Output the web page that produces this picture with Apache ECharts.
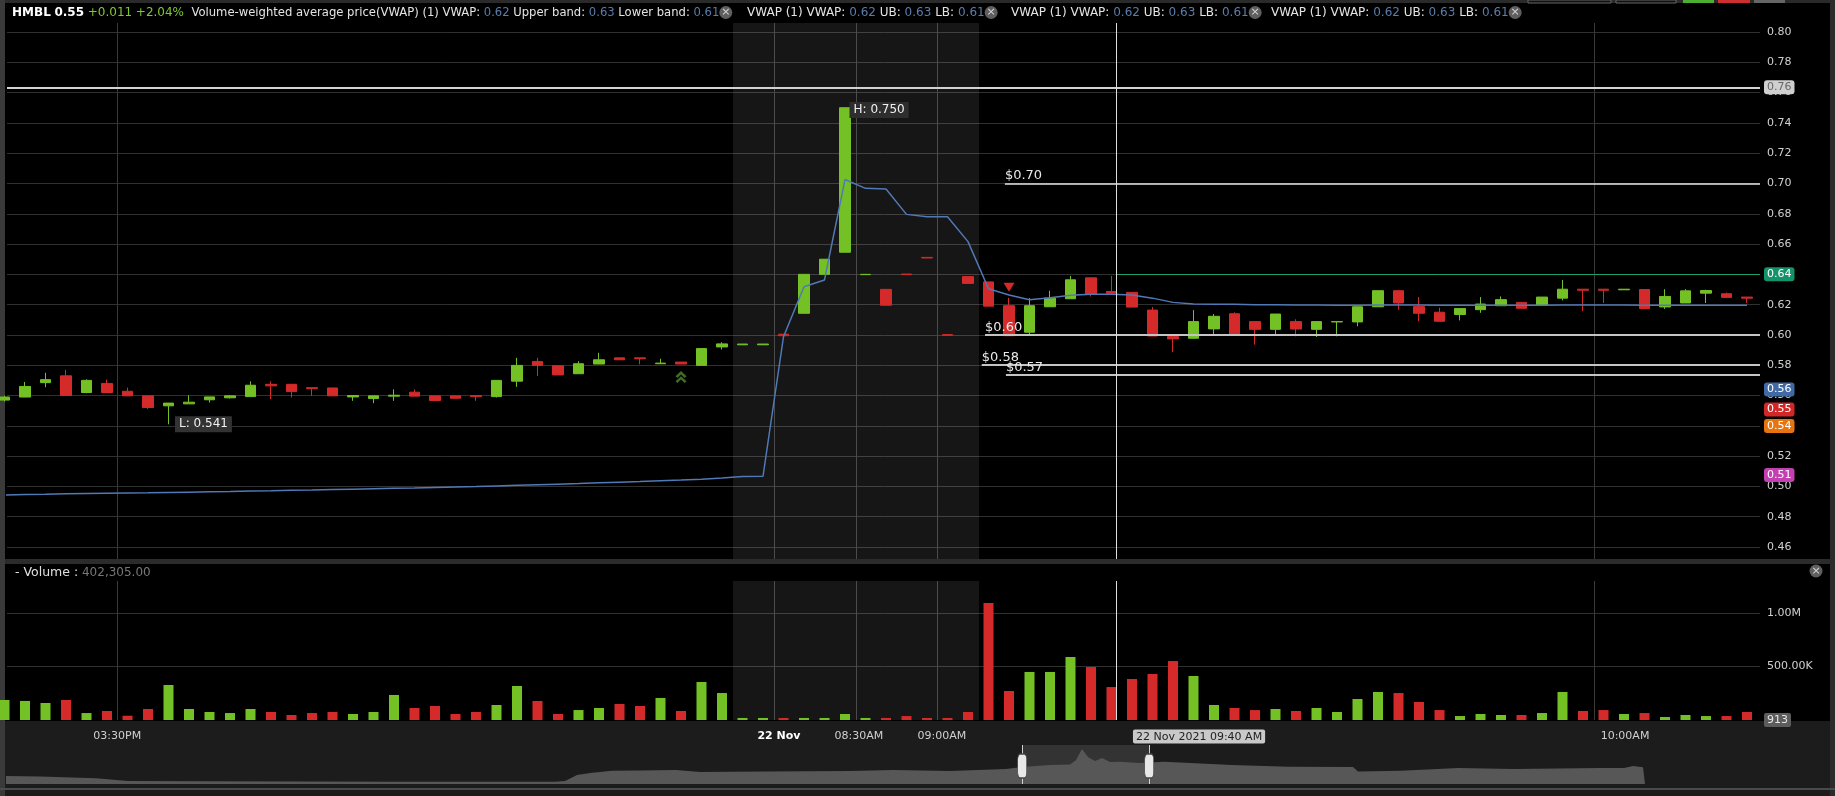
<!DOCTYPE html>
<html><head><meta charset="utf-8">
<script src="https://cdn.jsdelivr.net/npm/echarts@6/dist/echarts.min.js"></script>
<style>html,body{margin:0;padding:0;background:#000;overflow:hidden}#c{width:1835px;height:796px}</style>
</head><body><div id="c"></div>
<script>
// ---------------- data ----------------
const opens = [0.557,0.559,0.5685,0.573,0.562,0.568,0.5628,0.5598,0.5532,0.5545,
 0.5572,0.5585,0.5593,0.5674,0.5674,0.5652,0.565,0.5591,0.558,0.5596,
 0.5622,0.5598,0.5598,0.56,0.5593,0.5695,0.5825,0.5797,0.5744,0.5808,
 0.5849,0.5849,0.581,0.5821,0.5799,0.5921,0.5935,0.5935,0.6005,0.6143,
 0.64,0.6546,0.6398,0.6301,0.6402,0.6512,0.6002,0.6385,0.635,0.6193,
 0.6018,0.6186,0.6239,0.6377,0.6287,0.6281,0.6164,0.5989,0.5978,0.604,
 0.614,0.6088,0.6037,0.6088,0.6037,0.6086,0.6086,0.6186,0.6292,0.6187,
 0.615,0.6135,0.6167,0.6193,0.6215,0.6198,0.6243,0.6302,0.6302,0.6298,
 0.63,0.6185,0.6211,0.6276,0.6272,0.625];
const closes = [0.559,0.566,0.5705,0.560,0.570,0.562,0.5598,0.5521,0.555,0.5556,
 0.5591,0.5598,0.5668,0.5664,0.5626,0.5646,0.5598,0.56,0.5598,0.5602,
 0.5596,0.5567,0.5582,0.5593,0.570,0.5799,0.5799,0.5736,0.581,0.5836,
 0.5836,0.5843,0.5814,0.5808,0.591,0.5941,0.594,0.594,0.5995,0.64,
 0.65,0.75,0.64,0.6196,0.6398,0.6508,0.5998,0.634,0.619,0.5995,
 0.6193,0.6243,0.6364,0.627,0.6276,0.6184,0.5993,0.5974,0.6088,0.6123,
 0.6004,0.6037,0.6138,0.6039,0.6088,0.6088,0.6186,0.6292,0.6211,0.6143,
 0.609,0.6174,0.6204,0.6233,0.6176,0.625,0.6302,0.6295,0.6295,0.6302,
 0.6174,0.6254,0.6291,0.6293,0.6248,0.6243];
const lows = [0.556,0.559,0.5655,0.560,0.5615,0.562,0.5598,0.551,0.541,0.5545,
 0.5554,0.558,0.5593,0.5576,0.5587,0.5598,0.5598,0.5565,0.555,0.5565,
 0.5596,0.5567,0.5582,0.5565,0.5587,0.5657,0.5729,0.5736,0.5744,0.5808,
 0.5836,0.5806,0.581,0.5808,0.5799,0.5904,0.5935,0.5935,0.5995,0.6143,
 0.64,0.6546,0.6398,0.6196,0.6398,0.6508,0.5998,0.634,0.619,0.5995,
 0.60,0.6186,0.6239,0.6254,0.6276,0.6184,0.5993,0.5886,0.5978,0.6004,
 0.6004,0.5936,0.6002,0.5991,0.5987,0.5991,0.6057,0.6186,0.6167,0.609,
 0.609,0.6096,0.6146,0.6193,0.6176,0.6198,0.6228,0.6157,0.6211,0.6298,
 0.6174,0.6172,0.6211,0.6211,0.6248,0.6211];
const highs = [0.560,0.569,0.575,0.577,0.5707,0.5705,0.5652,0.5598,0.555,0.5602,
 0.5591,0.5602,0.5694,0.5694,0.5674,0.5652,0.565,0.56,0.5598,0.5641,
 0.5641,0.5598,0.5598,0.56,0.570,0.5849,0.5849,0.5797,0.5827,0.5882,
 0.5849,0.5849,0.5843,0.5821,0.591,0.5952,0.594,0.594,0.6005,0.64,
 0.65,0.75,0.64,0.6301,0.6402,0.6512,0.6002,0.6385,0.635,0.6245,
 0.6243,0.6292,0.639,0.6377,0.639,0.6281,0.6184,0.5989,0.6164,0.6138,
 0.6149,0.6088,0.6138,0.6103,0.6088,0.6088,0.6186,0.6292,0.6292,0.625,
 0.618,0.6174,0.625,0.6254,0.6215,0.625,0.6363,0.6302,0.6302,0.6302,
 0.63,0.6302,0.6302,0.6298,0.628,0.625];
const volumes = [187000,178000,159000,187000,65000,84000,40000,103000,327000,103000,
 75000,65000,103000,75000,47000,65000,75000,56000,75000,234000,
 112000,131000,56000,75000,140000,318000,178000,56000,93000,112000,
 150000,131000,206000,84000,355000,252000,19000,19000,19000,19000,
 19000,56000,19000,19000,37000,19000,19000,75000,1093000,271000,
 449000,449000,589000,495000,308000,383000,430000,551000,411000,140000,
 112000,93000,103000,84000,112000,75000,196000,262000,252000,168000,
 93000,37000,56000,47000,47000,65000,262000,84000,93000,56000,
 65000,28000,47000,37000,37000,75000];
const vwap = [0.4943,0.4946,0.4948,0.4951,0.4953,0.4955,0.4957,0.4958,0.4960,0.4962,
 0.4964,0.4966,0.4969,0.4971,0.4974,0.4976,0.4979,0.4982,0.4985,0.4988,
 0.4990,0.4993,0.4996,0.4999,0.5003,0.5007,0.5011,0.5015,0.5019,0.5024,
 0.5028,0.5032,0.5037,0.5042,0.5048,0.5055,0.5065,0.5067,0.5988,0.6318,
 0.6363,0.7026,0.6968,0.6963,0.6796,0.6780,0.6780,0.6616,0.6305,0.6264,
 0.6232,0.6245,0.6262,0.6268,0.6268,0.6264,0.6243,0.6215,0.6205,0.6203,
 0.6202,0.6200,0.6199,0.6198,0.6197,0.6196,0.6196,0.6197,0.6198,0.6197,
 0.6196,0.6196,0.6196,0.6196,0.6196,0.6196,0.6197,0.6197,0.6197,0.6197,
 0.6196,0.6196,0.6196,0.6196,0.6196,0.6196];
const priceTicks = [0.46,0.48,0.50,0.52,0.54,0.56,0.58,0.60,0.62,0.64,0.66,0.68,0.70,0.72,0.74,0.76,0.78,0.80];
const volumeTicks = [500000, 1000000];
const volumeTickLabels = ['500.00K', '1.00M'];
const timeGridPos = [5.5, 37.55, 41.55, 45.5, 77.55];
const timeLabelPos = [5.5, 37.78, 41.68, 45.73, 79.05];
const timeTickLabels = ['03:30PM', '22 Nov', '08:30AM', '09:00AM', '10:00AM'];
// price level lines: start bar, price, label
const levelStarts = [48.8, 47.83, 47.67, 48.85];
const levelPrices = [0.70, 0.60, 0.58, 0.5735];
const levelLabels = ['$0.70', '$0.60', '$0.58', '$0.57'];
const crosshairLevel = 0.7635;
// right-edge value badges
const badgeValues = [0.7635, 0.64, 0.5639, 0.5507, 0.5399, 0.5075];
const badgeTexts = ['0.76', '0.64', '0.56', '0.55', '0.54', '0.51'];
const badgeColors = ['#cfcfcf', '#14936b', '#3f6aa6', '#d12727', '#e8740f', '#c43fb2'];
const badgeTextColors = ['#666', '#fff', '#fff', '#fff', '#fff', '#fff'];
const crosshairBar = 54.25;
const sessionStart = 35.54, sessionEnd = 47.54;
// navigator overview (position, height)
const navX = [0,34,90,122,194,294,394,549,559,571,584,606,634,670,694,759,844,887,944,1000,1016,1044,1064,1070,1076,1082,1089,1096,1104,1113,1134,1158,1226,1283,1347,1352,1395,1452,1508,1594,1618,1627,1637,1639];
const navH = [8,7.5,5.7,3,2.7,2.5,2.3,2.3,3,9,11,13.3,13.5,14,12,12.5,13,14,13,15,17,19,19.5,24,35,27,23,26,22,22.3,21,22.3,19,17.3,17,12.5,13.3,16,15,16,16,18,16.7,0];
const navWindow = [1016.2, 1143.2];

// ---------------- layout / style ----------------
const GREEN = '#74c126', RED = '#d42a2a';
const FONT = 'DejaVu Sans';
const xMin = 0.122, xMax = 85.634;
const priceMin = 0.45208, priceMax = 0.80594;
const volMax = 1299100;
const CLEAR = 'rgba(0,0,0,0)';

const candleData = opens.map((o, i) => [i, o, closes[i], lows[i], highs[i]]);
const volData = volumes.map((v, i) => ({value: [i, v], itemStyle: {color: closes[i] >= opens[i] ? GREEN : RED}}));
const vwapData = vwap.map((v, i) => [i, v]);
const navData = navX.map((x, i) => [x, navH[i]]);

const levelLines = levelPrices.map((p, k) => [
  {coord: [levelStarts[k], p], lineStyle: {color: k === 0 ? '#e6e6e6' : '#c4c4c4', width: k === 0 ? 1.5 : 2, type: 'solid'},
   label: {show: true, position: 'insideStartTop', formatter: levelLabels[k], color: '#e8e8e8', fontSize: 13, fontFamily: FONT, distance: [0, 1]}},
  {coord: [xMax, p]}
]);
const badgeLines = badgeValues.map((v, k) => ({
  yAxis: v, lineStyle: {color: CLEAR, width: 0},
  label: {show: true, position: 'end', formatter: badgeTexts[k], backgroundColor: badgeColors[k], color: badgeTextColors[k],
          padding: [2, 3, 1, 3], borderRadius: 3, fontSize: 11, fontFamily: FONT, distance: 4}
}));

const axisLabelStyle = {color: '#d0d0d0', fontSize: 11, fontFamily: FONT};
const closeIcon = {backgroundColor: '#5f5f5f', borderRadius: 7, width: 13, height: 13, align: 'center', color: '#d8d8d8', fontSize: 11, lineHeight: 13, fontFamily: FONT, fontWeight: 'normal'};
function makeRich(sz) {
  return {
    hb: {color: '#ffffff', fontWeight: 'bold', fontSize: 12, fontFamily: FONT},
    g: {color: '#7fc832', fontSize: 12, fontFamily: FONT, fontWeight: 'normal'},
    t: {color: '#e4e4e4', fontSize: sz, fontFamily: FONT, fontWeight: 'normal'},
    v: {color: '#5a7dab', fontSize: sz, fontFamily: FONT, fontWeight: 'normal'},
    x: closeIcon
  };
}
const headerStyle1 = {fontSize: 11.6, fontFamily: FONT, fontWeight: 'normal', color: '#e4e4e4', rich: makeRich(11.6)};
const headerStyle = {fontSize: 12, fontFamily: FONT, fontWeight: 'normal', color: '#e4e4e4', rich: makeRich(12)};
const segTail = '{t|VWAP (1) VWAP:} {v|0.62} {t|UB:} {v|0.63} {t|LB:} {v|0.61}{x|×}';

const option = {
  animation: false,
  backgroundColor: '#000',
  textStyle: {fontFamily: FONT},
  title: [
    {left: 12, top: 6, padding: 0, text: '{hb|HMBL} {hb|0.55} {g|+0.011} {g|+2.04%}  {t|Volume-weighted average price(VWAP) (1) VWAP:} {v|0.62} {t|Upper band:} {v|0.63} {t|Lower band:} {v|0.61}{x|×}', textStyle: headerStyle1},
    {left: 747, top: 6, padding: 0, text: segTail, textStyle: headerStyle},
    {left: 1011, top: 6, padding: 0, text: segTail, textStyle: headerStyle},
    {left: 1271, top: 6, padding: 0, text: segTail, textStyle: headerStyle},
    {left: 15, top: 566, padding: 0, text: '{w|- Volume :} {n|402,305.00}',
     textStyle: {fontSize: 12, fontFamily: FONT, fontWeight: 'normal', rich: {w: {color: '#e0e0e0', fontSize: 12.5, fontFamily: FONT, fontWeight: 'normal'}, n: {color: '#777', fontSize: 12, fontFamily: FONT, fontWeight: 'normal'}}}}
  ],
  graphic: {elements: [
    {type: 'rect', z: -10, shape: {x: 0, y: 721, width: 1835, height: 75}, style: {fill: '#1c1c1c'}},
    {type: 'rect', z: -10, shape: {x: 0, y: 559, width: 1835, height: 5}, style: {fill: '#2b2b2b'}},
    {type: 'rect', z: -10, shape: {x: 0, y: 0, width: 1835, height: 3}, style: {fill: '#2a2a2a'}},
    {type: 'rect', z: -10, shape: {x: 0, y: 0, width: 5, height: 796}, style: {fill: '#3a3a3a'}},
    {type: 'rect', z: -10, shape: {x: 1830, y: 0, width: 5, height: 796}, style: {fill: '#2c2c2c'}},
    {type: 'rect', z: -10, shape: {x: 0, y: 788, width: 1835, height: 2}, style: {fill: '#4a4a4a'}},
    {type: 'rect', z: -10, shape: {x: 1528, y: 0, width: 83, height: 3}, style: {fill: '#111', stroke: '#666', lineWidth: 1}},
    {type: 'rect', z: -10, shape: {x: 1616, y: 0, width: 60, height: 3}, style: {fill: '#111', stroke: '#666', lineWidth: 1}},
    {type: 'rect', z: -10, shape: {x: 1683, y: 0, width: 31, height: 3}, style: {fill: '#4caf30'}},
    {type: 'rect', z: -10, shape: {x: 1718, y: 0, width: 32, height: 3}, style: {fill: '#cc2f2f'}},
    {type: 'rect', z: -10, shape: {x: 1754, y: 0, width: 31, height: 3}, style: {fill: '#666'}},
    {type: 'circle', z: 10, shape: {cx: 1816, cy: 571, r: 6.5}, style: {fill: '#5f5f5f'}},
    {type: 'text', z: 11, x: 1816, y: 571, style: {text: '×', fill: '#d8d8d8', align: 'center', verticalAlign: 'middle', font: '11px "DejaVu Sans"'}}
  ]},
  grid: [
    {left: 7, right: 75, top: 23, height: 536},
    {left: 7, right: 75, top: 581, height: 139},
    {left: 6, top: 745, width: 1639, height: 39}
  ],
  xAxis: [
    {type: 'value', gridIndex: 0, min: xMin, max: xMax, axisLine: {show: false},
     axisTick: {show: false, customValues: timeGridPos}, axisLabel: {show: false, customValues: timeGridPos},
     splitLine: {show: true, lineStyle: {color: '#3a3a3a', width: 1}}},
    {type: 'value', gridIndex: 1, min: xMin, max: xMax, axisLine: {show: false},
     axisTick: {show: false, customValues: timeGridPos},
     axisLabel: {show: true, customValues: timeLabelPos, margin: 11, color: '#d0d0d0', fontSize: 11, fontFamily: FONT,
       formatter: v => { const k = timeLabelPos.findIndex(p => Math.abs(p - v) < 1e-6); const t = k >= 0 ? timeTickLabels[k] : ''; return t === '22 Nov' ? '{b|' + t + '}' : t; },
       rich: {b: {color: '#ffffff', fontWeight: 'bold', fontSize: 11, fontFamily: FONT}}},
     splitLine: {show: true, lineStyle: {color: '#3a3a3a', width: 1}}},
    {type: 'value', gridIndex: 2, min: 0, max: 1639, show: false}
  ],
  yAxis: [
    {type: 'value', gridIndex: 0, position: 'right', min: priceMin, max: priceMax, axisLine: {show: false},
     axisTick: {show: false, customValues: priceTicks},
     axisLabel: Object.assign({customValues: priceTicks, margin: 7, formatter: v => v.toFixed(2)}, axisLabelStyle),
     splitLine: {show: true, lineStyle: {color: '#303030', width: 1}}},
    {type: 'value', gridIndex: 1, position: 'right', min: 0, max: volMax, axisLine: {show: false},
     axisTick: {show: false, customValues: volumeTicks},
     axisLabel: Object.assign({customValues: volumeTicks, margin: 7, formatter: v => { const k = volumeTicks.indexOf(v); return k >= 0 ? volumeTickLabels[k] : ''; }}, axisLabelStyle),
     splitLine: {show: true, lineStyle: {color: '#303030', width: 1}}},
    {type: 'value', gridIndex: 2, min: 0, max: 39, show: false}
  ],
  series: [
    {
      type: 'candlestick', name: 'HMBL', xAxisIndex: 0, yAxisIndex: 0,
      dimensions: ['idx', 'open', 'close', 'lowest', 'highest'],
      encode: {x: 'idx', y: ['open', 'close', 'lowest', 'highest']},
      data: candleData, barWidth: 11, clip: true,
      itemStyle: {color: GREEN, color0: RED, borderColor: GREEN, borderColor0: RED, borderWidth: 1},
      markArea: {silent: true, itemStyle: {color: 'rgba(255,255,255,0.085)'},
        data: [[{xAxis: sessionStart, yAxis: priceMin}, {xAxis: sessionEnd, yAxis: priceMax}]]},
      markLine: {silent: true, symbol: ['none', 'none'], animation: false, precision: 5,
        data: [
          [{coord: [xMin, crosshairLevel], lineStyle: {color: '#d2d2d2', width: 2, type: 'solid'}, label: {show: false}}, {coord: [xMax, crosshairLevel]}],
          [{coord: [crosshairBar, 0.64], lineStyle: {color: '#1f9d72', width: 1, type: 'solid'}, label: {show: false}}, {coord: [xMax, 0.64]}],
          ...levelLines,
          ...badgeLines,
          [{coord: [crosshairBar, priceMax], lineStyle: {color: '#dddddd', width: 1, type: 'solid'}, label: {show: false}}, {coord: [crosshairBar, priceMin]}]
        ]},
      markPoint: {silent: true, animation: false,
        data: [
          {coord: [41, 0.7485], symbol: 'circle', symbolSize: 1, itemStyle: {color: CLEAR},
           label: {show: true, position: 'right', distance: 4, formatter: 'H: 0.750', color: '#f0f0f0', backgroundColor: '#2e2e2e', padding: [2, 4], fontSize: 12, fontFamily: FONT}},
          {coord: [8, 0.541], symbol: 'circle', symbolSize: 1, itemStyle: {color: CLEAR},
           label: {show: true, position: 'right', distance: 6, formatter: 'L: 0.541', color: '#f0f0f0', backgroundColor: '#333', padding: [2, 4], fontSize: 12, fontFamily: FONT}},
          {coord: [49, 0.6315], symbol: 'triangle', symbolRotate: 180, symbolSize: [11, 9], itemStyle: {color: RED}, label: {show: false}},
          {coord: [33, 0.5722], symbol: 'path://M0,6 L6,0 L12,6 L10,8 L6,4 L2,8 Z M0,12 L6,6 L12,12 L10,14 L6,10 L2,14 Z', symbolSize: [11, 12], itemStyle: {color: '#3f6e22'}, label: {show: false}}
        ]}
    },
    {
      type: 'line', name: 'VWAP', xAxisIndex: 0, yAxisIndex: 0, data: vwapData, symbol: 'none', z: 3,
      lineStyle: {color: '#5079b6', width: 1.5}
    },
    {
      type: 'bar', name: 'Volume', xAxisIndex: 1, yAxisIndex: 1, data: volData, barWidth: 10,
      markArea: {silent: true, itemStyle: {color: 'rgba(255,255,255,0.085)'},
        data: [[{xAxis: sessionStart, yAxis: 0}, {xAxis: sessionEnd, yAxis: volMax}]]},
      markLine: {silent: true, symbol: ['none', 'none'], animation: false, precision: 0,
        data: [
          [{coord: [crosshairBar, volMax], lineStyle: {color: '#dddddd', width: 1, type: 'solid'}, label: {show: false}}, {coord: [crosshairBar, 0]}],
          {yAxis: 913, lineStyle: {color: CLEAR, width: 0},
           label: {show: true, position: 'end', formatter: '913', backgroundColor: '#5c5c5c', color: '#e6e6e6', padding: [2, 3, 1, 3], borderRadius: 2, fontSize: 11, fontFamily: FONT, distance: 4}}
        ]},
      markPoint: {silent: true, animation: false,
        data: [
          {coord: [58.27, 0], symbol: 'circle', symbolSize: 1, itemStyle: {color: CLEAR},
           label: {show: true, position: 'bottom', distance: 9, formatter: '22 Nov 2021 09:40 AM', color: '#222', backgroundColor: '#c9c9c9', padding: [2, 3, 1, 3], borderRadius: 2, fontSize: 11, fontFamily: FONT}}
        ]}
    },
    {
      type: 'line', name: 'Navigator', xAxisIndex: 2, yAxisIndex: 2, data: navData, symbol: 'none',
      lineStyle: {width: 0}, areaStyle: {color: '#575757', opacity: 1},
      markArea: {silent: true, itemStyle: {color: 'rgba(255,255,255,0.10)'},
        data: [[{xAxis: navWindow[0], yAxis: 0}, {xAxis: navWindow[1], yAxis: 39}]]},
      markLine: {silent: true, symbol: ['none', 'none'], label: {show: false}, precision: 2,
        lineStyle: {color: '#cfcfcf', width: 1, type: 'solid'},
        data: [{xAxis: navWindow[0]}, {xAxis: navWindow[1]}]},
      markPoint: {silent: true, symbol: 'roundRect', symbolSize: [9, 24],
        itemStyle: {color: '#e8e8e8', borderColor: '#444', borderWidth: 1}, label: {show: false},
        data: [{coord: [navWindow[0], 18]}, {coord: [navWindow[1], 18]}]}
    }
  ]
};
const chart = echarts.init(document.getElementById('c'), null, {renderer: 'canvas'});
chart.setOption(option);
</script>
</body></html>
